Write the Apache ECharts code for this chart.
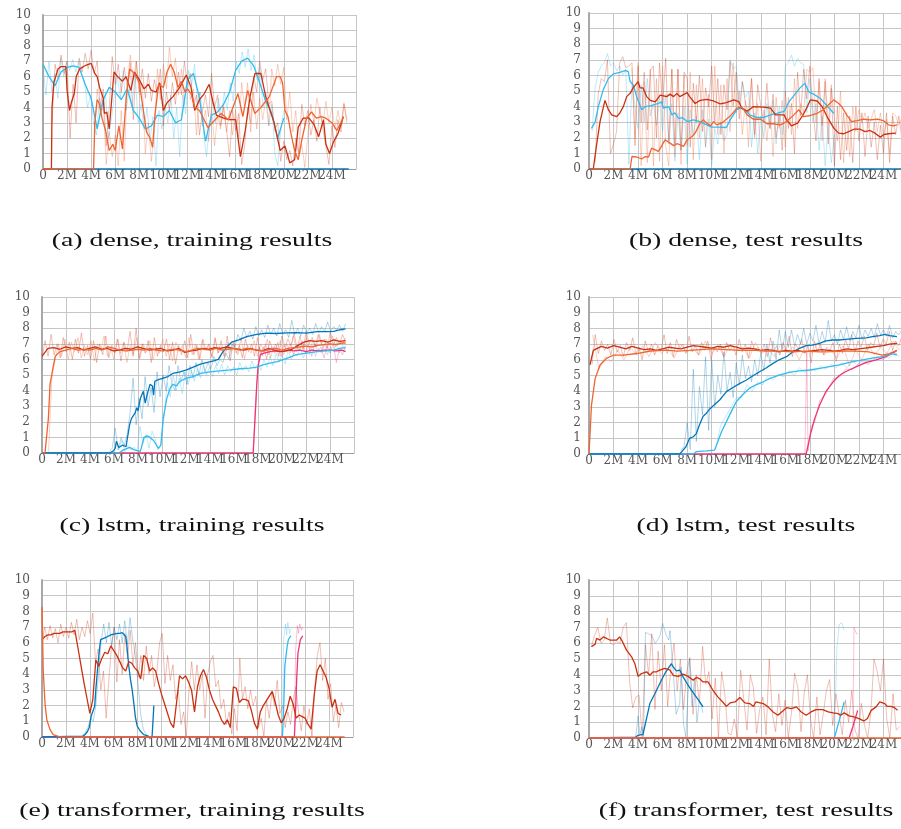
<!DOCTYPE html>
<html><head><meta charset="utf-8">
<script src="https://cdn.jsdelivr.net/npm/echarts@6/dist/echarts.min.js"></script>
<style>html,body{margin:0;padding:0;background:#fff}#c{width:901px;height:829px}</style>
</head><body><div id="c"></div>
<script>
// ---------- tick labels / captions ----------
const xTickStep = 2;           // million steps between ticks
const yTicks = [0,1,2,3,4,5,6,7,8,9,10];
const captions = ['(a) dense, training results','(b) dense, test results','(c) lstm, training results','(d) lstm, test results','(e) transformer, training results','(f) transformer, test results'];

// ---------- (a) dense, training ----------
const aCyanSpan = [0, 20];
const aCyan = [6.8,6.0,5.4,6.3,6.6,6.7,6.6,5.5,4.6,2.6,4.5,5.3,5.0,4.5,5.2,3.8,3.3,2.6,2.8,3.5,3.4,3.8,3.0,3.2,5.8,6.2,4.6,1.8,3.5,3.7,4.2,5.0,6.4,7.0,7.2,6.7,5.6,4.4,3.6,2.0,3.3];
const aRed = [[0,0],[0.7,0],[0.75,4.0],[0.9,5.6],[1.25,6.5],[1.5,6.65],[1.9,6.65],[2.0,5.1],[2.2,3.8],[2.35,4.3],[2.6,4.9],[2.76,6.0],[3.04,6.5],[3.6,6.75],[4.0,6.86],[4.3,6.2],[4.5,6.0],[4.7,5.3],[5.0,4.6],[5.1,3.6],[5.3,3.7],[5.5,2.6],[5.9,6.3],[6.2,6.0],[6.6,5.7],[6.9,6.0],[7.3,5.1],[7.6,6.3],[8.0,5.8],[8.4,5.2],[8.75,5.5],[9.0,5.1],[9.4,5.0],[9.7,5.6],[10.0,3.8],[10.3,4.3],[10.8,4.7],[11.4,5.35],[11.9,6.1],[12.3,5.3],[12.6,3.8],[13.0,4.5],[13.4,4.9],[13.8,5.5],[14.1,4.4],[14.4,3.5],[15.0,3.3],[15.4,3.2],[16.0,3.2],[16.4,0.8],[16.8,2.5],[17.2,4.7],[17.6,6.2],[18.1,6.2],[18.5,4.7],[19.2,3.0],[19.7,1.2],[20.1,1.5],[20.5,0.4],[20.9,0.6],[21.2,2.7],[21.6,3.3],[22.1,3.3],[22.5,2.9],[22.9,2.1],[23.3,3.2],[23.5,1.6],[23.8,1.0],[24.1,1.7],[24.5,2.3],[24.8,3.0],[24.95,3.4]];
const aOrange = [[0,0],[4.2,0],[4.3,3.0],[4.5,4.5],[4.7,4.2],[4.9,3.3],[5.2,2.5],[5.5,1.2],[5.8,1.6],[6.0,1.2],[6.3,2.8],[6.6,1.3],[6.9,4.5],[7.2,6.5],[7.6,6.2],[8.0,5.6],[8.3,4.0],[8.6,2.4],[8.9,2.0],[9.1,1.4],[9.3,3.5],[9.6,5.5],[10.0,5.3],[10.3,6.3],[10.6,6.8],[10.9,6.3],[11.2,5.3],[11.5,5.7],[11.8,5.0],[12.0,5.2],[12.3,4.9],[12.6,4.0],[13.0,3.8],[13.7,2.7],[14.3,3.2],[14.8,3.6],[15.4,3.2],[16.2,4.9],[16.6,3.4],[17.0,5.1],[17.6,3.6],[18.1,4.0],[18.8,4.7],[19.4,6.0],[19.7,6.0],[19.9,5.6],[20.1,3.8],[20.35,3.4],[20.6,2.3],[20.9,1.2],[21.2,0.6],[21.5,1.9],[21.9,3.3],[22.3,3.7],[22.7,3.3],[23.1,3.4],[23.5,3.3],[24.0,3.0],[24.4,2.5],[24.8,3.1],[24.95,3.4]];
const aBlueZero = [[0,0],[25.4,0]];
const aCyanRawSpan = [0, 20];
const aCyanRaw = [6.5,4.8,7.0,5.0,6.2,4.6,7.2,6.0,7.0,6.4,7.1,6.3,7.0,6.2,5.6,4.0,4.8,3.0,2.2,4.6,3.8,5.0,2.0,3.2,4.8,6.0,4.6,6.4,3.8,5.2,4.0,6.2,3.0,4.2,2.6,4.0,1.8,3.4,0.2,3.8,2.6,4.2,3.0,4.8,2.0,4.0,0.8,4.8,3.6,6.4,5.4,6.8,4.2,5.0,2.4,0.8,2.8,4.4,3.0,4.6,3.4,5.0,3.8,5.6,4.4,7.0,6.2,7.6,6.6,7.8,6.4,7.4,5.8,6.6,4.0,5.0,2.8,4.2,1.0,0.2,2.6,3.8];
const aRedRawSpan = [0.75, 25.25];
const aRedRaw = [3.0,6.8,5.9,7.4,6.2,7.0,2.0,5.5,3.0,7.2,6.3,7.5,6.5,7.7,6.2,7.0,4.0,5.2,1.5,4.0,7.3,5.5,6.8,5.0,6.6,5.2,6.9,3.2,7.0,5.0,6.5,4.6,6.2,4.4,5.8,4.8,6.5,2.8,5.0,3.8,5.6,4.2,6.3,4.8,7.0,5.5,6.2,4.0,4.8,2.2,3.8,4.8,3.4,6.2,4.0,4.8,2.8,4.0,2.5,0.8,3.8,2.5,3.6,0.3,1.5,4.0,3.0,6.0,5.0,7.0,5.8,6.5,4.2,4.4,2.5,3.0,0.5,1.8,0.6,1.2,0.2,2.0,1.0,4.2,2.8,3.8,2.2,3.2,1.8,4.0,2.6,1.5,0.3,2.8,1.4,3.2,2.4,4.2,3.0];
const aOrangeRawSpan = [4.25, 25.25];
const aOrangeRaw = [1.5,5.2,3.5,4.3,0.3,2.4,0.8,2.2,0.2,3.8,0.5,5.5,7.4,5.8,7.0,4.8,5.5,1.0,3.0,0.5,2.4,6.5,4.5,6.8,5.2,7.9,6.0,7.2,4.8,6.5,4.2,6.0,4.5,5.2,2.2,5.0,2.8,3.8,1.8,4.0,1.5,3.5,2.6,4.2,2.4,3.8,2.2,3.8,2.0,5.6,4.0,5.6,2.4,5.0,2.6,4.6,3.2,4.5,2.8,6.5,5.4,6.8,5.5,6.6,3.2,5.0,2.4,3.8,0.8,1.6,0.1,2.2,4.2,3.0,4.6,3.6,2.8,4.4,3.0,4.0,2.6,3.8,2.8,4.3,3.2];

// ---------- (b) dense, test ----------
const bCyan = [[0.2,2.6],[0.5,3.0],[0.76,4.0],[1.17,5.1],[1.58,5.8],[2.0,6.1],[2.5,6.2],[2.94,6.3],[3.2,6.25],[3.35,5.6],[3.6,5.4],[3.9,4.6],[4.3,3.8],[4.57,4.0],[5.0,4.04],[5.66,4.2],[5.9,4.3],[6.07,3.9],[6.5,4.0],[6.75,3.47],[7.0,3.6],[7.3,3.25],[7.6,3.3],[8.0,3.04],[8.5,3.15],[9.06,3.04],[9.6,2.83],[10.0,2.68],[10.55,2.68],[11.2,2.66],[11.5,3.15],[12.05,3.8],[12.3,3.9],[12.7,3.8],[13.1,3.47],[13.7,3.3],[14.2,3.3],[14.8,3.47],[15.3,3.57],[15.9,3.7],[16.3,4.3],[16.7,4.7],[17.2,5.2],[17.6,5.5],[17.9,4.96],[18.3,4.8],[18.9,4.5],[19.4,4.04],[19.95,3.57]];
const bRed = [[0,0],[0.35,0],[0.6,1.45],[0.9,3.04],[1.3,4.4],[1.58,3.8],[1.85,3.47],[2.26,3.36],[2.5,3.57],[2.8,4.0],[3.07,4.64],[3.35,4.85],[3.6,5.2],[4.0,5.6],[4.16,5.2],[4.4,5.2],[4.7,4.64],[5.0,4.4],[5.4,4.3],[5.8,4.74],[6.34,4.64],[6.6,4.8],[6.9,4.64],[7.16,4.85],[7.4,4.64],[8.0,4.9],[8.2,4.64],[8.65,4.2],[9.06,4.4],[9.6,4.47],[10.15,4.36],[10.7,4.17],[11.2,4.26],[11.8,4.43],[12.2,4.32],[12.46,3.9],[12.9,3.7],[13.4,4.0],[14.2,3.96],[14.8,3.9],[15.2,3.47],[15.9,3.47],[16.1,3.15],[16.5,2.77],[17.0,2.94],[17.4,3.4],[17.8,4.0],[18.04,4.43],[18.6,4.36],[19.0,4.0],[19.4,3.36],[19.95,2.62],[20.35,2.3],[20.76,2.26],[21.17,2.4],[21.6,2.55],[22.1,2.55],[22.5,2.4],[22.9,2.47],[23.3,2.3],[23.75,2.04],[24.0,2.2],[24.4,2.26],[25.0,2.3]];
const bOrange = [[0,0],[3.35,0],[3.5,0.8],[3.9,0.77],[4.3,0.64],[4.57,0.8],[4.85,0.77],[5.1,1.34],[5.4,1.23],[5.66,1.13],[5.9,1.45],[6.2,1.87],[6.6,1.66],[6.9,1.5],[7.16,1.62],[7.4,1.56],[7.7,1.45],[8.0,1.87],[8.4,2.08],[8.65,2.3],[9.06,2.94],[9.3,3.15],[9.6,2.94],[9.9,2.77],[10.15,3.04],[10.4,2.83],[10.8,2.94],[11.2,3.19],[11.6,3.47],[12.05,3.9],[12.46,3.96],[12.9,3.47],[13.4,3.19],[14.0,3.19],[14.5,2.9],[15.0,2.9],[15.6,2.83],[16.1,3.04],[16.7,3.47],[17.1,3.8],[17.5,3.36],[18.04,3.43],[18.6,3.57],[19.1,3.8],[19.5,4.1],[19.95,4.43],[20.35,4.2],[20.6,4.0],[21.0,3.47],[21.4,3.04],[21.85,3.1],[22.4,3.19],[22.9,3.15],[23.5,3.19],[24.0,3.1],[24.4,2.83],[24.8,2.77],[25.1,2.83]];
const bBlueZero = [[0,0],[25.5,0]];
const bCyanRawSpan = [0.25, 20.0];
const bCyanRaw = [2.4,5.2,6.2,6.6,6.8,7.4,6.6,6.8,6.3,6.6,6.0,6.4,0.3,5.6,4.0,2.6,5.4,3.0,5.8,3.4,4.2,2.8,4.6,2.4,4.8,1.6,4.2,0.5,3.6,1.2,4.0,0.3,3.8,2.2,3.4,0.6,3.8,1.4,3.2,0.2,2.6,1.6,3.0,1.8,2.2,7.0,6.4,6.6,4.2,5.6,4.6,5.0,1.4,3.6,1.0,3.4,2.0,4.2,2.6,4.4,1.6,4.0,2.2,6.6,6.8,7.3,6.6,7.1,6.8,6.7,3.6,5.8,3.0,4.2,1.2,3.4,0.2,2.8,0.4,2.2];
const bRedRawSpan = [0.5, 25.5];
const bRedRaw = [0.4,4.8,5.8,5.6,7.0,1.0,1.6,2.4,6.8,7.2,6.5,6.6,6.8,1.5,6.6,3.0,6.2,2.5,6.3,6.6,2.0,6.8,4.0,7.1,1.8,6.4,1.6,6.4,1.2,6.2,5.8,1.4,5.5,3.0,6.0,2.4,5.2,4.0,6.6,3.0,5.8,2.2,5.4,3.8,6.9,4.0,6.2,3.2,5.6,4.2,3.6,5.8,2.2,5.4,4.0,3.0,5.5,2.6,4.8,2.0,3.4,1.2,5.0,2.6,4.2,1.0,6.2,3.4,6.4,4.5,6.6,3.8,1.8,5.8,2.8,5.6,1.6,5.2,0.2,4.0,0.6,3.6,1.2,3.4,0.4,4.0,1.8,3.6,0.8,3.4,1.4,3.0,0.6,2.8,1.0,3.6,0.4,3.4,2.2,3.4,2.0];
const bOrangeRawSpan = [3.5, 25.5];
const bOrangeRaw = [6.5,2.0,6.8,0.2,5.6,0.4,6.4,0.2,5.8,0.5,6.6,1.5,0.2,6.4,0.8,6.4,0.3,6.0,1.5,6.2,0.6,5.4,2.0,5.8,1.4,4.8,0.6,6.6,2.2,5.4,1.0,5.8,2.4,6.8,3.6,5.0,2.2,4.4,1.4,5.8,2.0,4.2,0.5,3.8,1.8,4.0,0.8,4.6,2.6,4.4,1.4,4.6,2.2,5.8,2.6,4.2,3.6,6.4,6.2,6.5,3.0,5.6,1.8,5.8,2.8,5.4,3.2,1.8,5.0,0.4,3.6,0.8,4.0,2.4,3.8,3.0,3.6,2.6,3.2,3.8,2.4,3.6,2.0,3.2,1.0,3.6,3.4,2.8,3.3];

// ---------- (c) lstm, training ----------
const cRedSpan = [0, 25.3];
const cRed = [6.2,6.7,6.75,6.65,6.8,6.7,6.75,6.6,6.7,6.8,6.65,6.7,6.55,6.6,6.7,6.65,6.8,6.7,6.6,6.65,6.7,6.55,6.6,6.7,6.45,6.55,6.6,6.7,6.65,6.75,6.7,6.8,6.7,6.65,6.6,6.7,6.6,6.55,6.7,6.6,6.5,6.55,6.65,6.9,7.1,7.2,7.15,7.2,7.1,7.25,7.15,7.2];
const cOrange = [[0,0],[0.25,0],[0.4,0.1],[0.53,2.2],[0.67,4.4],[0.9,5.4],[1.1,6.2],[1.5,6.5],[2,6.6],[2.5,6.7],[3,6.6],[3.5,6.65],[4,6.6],[4.5,6.7],[5,6.6],[5.5,6.8],[6,6.7],[6.5,6.6],[7,6.55],[7.5,6.6],[8,6.65],[8.5,6.6],[9,6.7],[9.5,6.6],[10,6.55],[10.5,6.6],[11,6.65],[11.5,6.6],[12,6.5],[12.5,6.6],[13,6.7],[13.5,6.65],[14,6.6],[14.5,6.7],[15,6.6],[15.5,6.65],[16,6.7],[16.5,6.6],[17,6.7],[17.5,6.65],[18,6.6],[18.5,6.55],[19,6.65],[19.5,6.7],[20,6.6],[20.5,6.7],[21,6.75],[21.5,6.8],[22,6.85],[22.5,6.8],[23,6.9],[23.5,6.95],[24,7.0],[24.5,6.95],[25,7.05],[25.3,7.05]];
const cBlue = [[0,0],[5.6,0],[5.9,0.1],[6.1,0.3],[6.2,0.75],[6.4,0.35],[6.7,0.5],[7.0,0.4],[7.3,1.8],[7.45,2.2],[7.75,2.55],[7.9,2.9],[8.0,2.7],[8.2,3.5],[8.3,3.7],[8.45,3.95],[8.6,3.2],[8.75,3.7],[9.0,4.4],[9.2,4.3],[9.3,3.7],[9.4,4.6],[9.7,4.7],[10.1,4.8],[10.5,4.9],[10.9,5.1],[11.5,5.2],[12.05,5.33],[12.6,5.5],[13.2,5.7],[13.7,5.8],[14.3,5.9],[14.7,6.0],[15.0,6.4],[15.4,6.8],[15.8,7.1],[16.4,7.25],[17.05,7.46],[17.9,7.6],[18.7,7.68],[19.5,7.66],[20.4,7.7],[21.2,7.72],[22.05,7.68],[22.9,7.78],[23.7,7.78],[24.3,7.8],[24.8,7.9],[25.3,7.95]];
const cCyan = [[0,0],[6.4,0],[6.8,0.2],[7.1,0.3],[7.3,0.36],[7.7,0.2],[8.2,0.1],[8.5,1.0],[8.8,1.1],[9.0,1.0],[9.3,0.8],[9.7,0.3],[9.9,0.5],[10.1,2.2],[10.4,3.5],[10.7,4.2],[10.9,4.4],[11.2,4.3],[11.5,4.6],[12.05,4.8],[12.6,4.9],[13.2,5.1],[14.0,5.2],[14.8,5.27],[15.7,5.33],[16.5,5.4],[17.3,5.44],[17.9,5.5],[18.4,5.65],[19.0,5.76],[19.6,5.86],[20.4,6.07],[21.2,6.3],[22.05,6.4],[22.9,6.5],[23.7,6.55],[24.3,6.6],[24.8,6.7],[25.3,6.75]];
const cMagenta = [[0,0],[17.6,0],[17.75,2.2],[17.9,4.4],[18.0,5.5],[18.2,6.3],[18.5,6.4],[19.0,6.5],[19.5,6.55],[20,6.5],[20.5,6.6],[21,6.55],[21.5,6.6],[22,6.5],[22.5,6.6],[23,6.55],[23.5,6.6],[24,6.6],[24.5,6.55],[25,6.6],[25.3,6.5]];
const cRedRawSpan = [0, 25.3];
const cRedRaw = [6.0,7.2,6.2,7.6,6.3,7.0,6.1,7.4,6.5,7.1,6.0,7.3,6.4,7.7,6.2,6.9,6.0,7.2,5.8,7.0,6.3,7.5,6.1,6.9,6.4,7.3,5.9,7.1,6.5,7.8,6.2,8.0,6.0,7.0,6.4,7.2,5.8,7.4,6.2,6.9,6.5,7.3,6.0,7.1,5.7,6.9,6.3,7.2,6.1,7.6,6.3,6.9,6.0,7.3,6.6,7.0,6.1,7.4,6.4,7.2,6.2,7.5,5.9,7.1,6.4,6.9,6.1,7.3,6.5,7.0,6.2,7.4,6.3,6.8,6.0,7.2,6.6,7.0,6.2,7.5,6.8,7.3,6.9,7.7,6.7,7.5,6.6,7.8,7.0,7.4,6.8,7.6,7.0,7.3,6.7,7.8,6.9,7.4,7.0,7.6,7.1];
const cOrangeRawSpan = [0.55, 25.3];
const cOrangeRaw = [0.1,4.8,6.0,7.0,6.2,7.3,6.0,7.1,6.5,7.4,6.1,6.9,6.3,7.2,5.9,7.0,6.6,7.5,6.2,6.8,6.0,7.3,6.4,7.1,5.8,6.9,6.3,7.4,6.1,7.0,6.5,7.2,6.0,6.8,6.4,7.3,6.2,7.0,5.9,7.1,6.5,6.9,6.1,7.4,6.3,7.0,6.0,7.2,6.6,6.9,6.2,7.3,6.4,6.8,6.1,7.1,6.5,7.0,6.3,7.4,6.0,6.9,6.4,7.2,6.2,7.0,6.5,7.3,6.1,6.8,6.6,7.2,6.3,7.0,6.4,7.5,6.5,7.1,6.7,7.4,6.6,7.2,6.8,7.6,6.7,7.3,6.9,7.5,6.8,7.2,7.0,7.4];
const cBlueRawSpan = [5.6, 25.3];
const cBlueRaw = [0.1,0.3,1.6,0.2,1.0,0.5,1.2,2.6,4.8,1.8,3.5,2.2,4.9,3.0,4.2,2.6,5.2,3.6,5.0,4.0,5.6,4.4,4.0,5.6,4.6,5.2,4.4,5.6,4.8,5.8,5.0,6.0,5.2,5.8,5.4,6.2,5.6,6.0,5.8,6.4,6.0,7.0,6.8,7.6,7.2,8.0,7.4,7.8,7.3,8.1,7.5,7.9,7.4,8.2,7.6,8.0,7.5,8.3,7.6,7.9,7.4,8.5,7.6,8.0,7.5,8.2,7.7,8.0,7.6,8.3,7.7,8.1,7.8,8.4,7.8,8.1,7.9,8.2,7.8,8.3];
const cCyanRawSpan = [6.4, 25.3];
const cCyanRaw = [0.2,0.8,0.1,0.5,0.2,0.4,0.1,1.7,0.6,1.2,0.3,1.4,0.9,0.2,0.5,2.4,4.5,3.6,5.0,4.0,4.8,3.8,5.2,4.4,5.3,4.6,5.4,4.8,5.6,5.0,5.5,4.9,5.6,5.1,5.7,5.0,5.6,5.2,5.5,5.0,5.8,5.3,5.6,5.2,5.9,5.4,5.7,5.3,6.0,5.5,6.2,5.6,6.4,5.8,6.3,5.7,6.6,6.0,6.4,6.2,6.8,6.1,6.5,6.3,6.9,6.2,6.7,6.4,7.0,6.3,6.8,6.5,7.1,6.4,6.9,6.6];
const cMagentaRawSpan = [17.6, 25.3];
const cMagentaRaw = [0.1,4.0,6.8,6.2,7.0,6.3,6.8,6.4,7.1,6.2,6.9,6.5,7.0,6.3,6.8,6.6,7.2,6.4,6.9,6.2,7.0,6.5,6.8,6.1,6.9,6.4,7.0,5.8,6.7,6.3,6.9];

// ---------- (d) lstm, test ----------
const dRed = [[0.08,5.67],[0.35,6.6],[0.5,6.7],[1.0,6.85],[1.5,6.75],[2.0,6.9],[2.5,6.8],[3.0,6.7],[3.5,6.85],[4.0,6.75],[4.5,6.65],[5.0,6.7],[5.5,6.6],[6.0,6.7],[6.5,6.8],[7.0,6.75],[7.5,6.7],[8.0,6.8],[8.5,6.9],[9.0,6.85],[9.5,6.8],[10.0,6.75],[10.5,6.85],[11.0,6.8],[11.5,6.9],[12.0,6.8],[12.5,6.7],[13.0,6.75],[13.5,6.7],[14.0,6.6],[14.5,6.65],[15.0,6.6],[15.5,6.5],[16.0,6.6],[16.5,6.55],[17.0,6.6],[17.5,6.5],[18.0,6.55],[18.5,6.6],[19.0,6.65],[19.5,6.6],[20.0,6.55],[20.5,6.6],[21.0,6.7],[21.5,6.65],[22.0,6.7],[22.5,6.75],[23.0,6.8],[23.5,6.85],[24.0,6.9],[24.5,7.0],[25.1,7.05]];
const dOrange = [[0,0],[0.08,0],[0.2,3.1],[0.5,4.8],[0.9,5.67],[1.44,6.1],[2.0,6.3],[2.8,6.3],[3.9,6.4],[5.0,6.56],[6.3,6.62],[7.2,6.55],[8.2,6.6],[9.1,6.65],[10.1,6.7],[11.2,6.65],[12.3,6.6],[13.3,6.62],[14.4,6.56],[15.5,6.55],[16.6,6.5],[17.7,6.55],[18.8,6.5],[19.8,6.52],[20.9,6.56],[21.8,6.55],[22.8,6.5],[23.4,6.4],[23.9,6.3],[24.5,6.4],[25.1,6.6]];
const dBlue = [[0,0],[7.4,0],[7.67,0.25],[7.9,0.46],[8.2,1.0],[8.5,1.1],[8.75,1.3],[9.0,1.85],[9.3,2.4],[9.57,2.6],[9.84,2.87],[10.24,3.16],[10.65,3.44],[11.2,3.97],[11.7,4.22],[12.3,4.5],[12.8,4.7],[13.4,5.0],[13.9,5.24],[14.4,5.46],[15.0,5.77],[15.5,6.0],[16.1,6.2],[16.6,6.5],[17.15,6.73],[17.7,6.9],[18.2,6.94],[18.8,7.05],[19.3,7.2],[19.9,7.26],[20.4,7.26],[20.9,7.3],[21.8,7.37],[22.6,7.4],[23.1,7.47],[23.7,7.54],[24.1,7.62],[24.5,7.54],[25.1,7.47]];
const dCyan = [[0,0],[8.5,0],[8.75,0.15],[9.57,0.2],[10.24,0.25],[10.4,0.57],[10.8,1.42],[11.2,2.06],[11.6,2.7],[12.0,3.33],[12.5,3.76],[13.1,4.2],[13.6,4.4],[14.2,4.6],[14.7,4.8],[15.5,5.03],[16.3,5.2],[17.15,5.29],[18.0,5.35],[18.8,5.46],[19.6,5.56],[20.4,5.67],[20.9,5.77],[21.5,5.88],[22.3,6.0],[23.1,6.1],[23.9,6.2],[24.7,6.4],[25.1,6.3]];
const dMagenta = [[0,0],[17.7,0],[17.8,0.36],[18.1,1.42],[18.4,2.27],[18.8,3.12],[19.3,3.97],[19.9,4.6],[20.4,5.0],[20.9,5.24],[21.8,5.56],[22.6,5.84],[23.4,6.0],[24.2,6.2],[24.7,6.4],[25.1,6.6]];
const dRedRawSpan = [0.25, 25.5];
const dRedRaw = [5.7,7.6,6.4,7.2,6.6,7.0,6.3,7.3,6.5,6.9,6.2,7.1,6.6,7.4,6.4,6.8,6.0,7.2,6.5,7.0,6.3,6.9,6.6,7.6,6.4,7.1,6.2,7.3,6.7,7.0,6.4,7.5,6.5,6.9,6.3,7.1,6.6,7.2,6.0,6.8,6.5,7.0,6.2,7.1,6.6,6.9,6.3,7.3,6.5,7.0,6.1,7.2,6.6,6.8,6.4,7.0,6.2,7.4,6.5,6.9,6.3,7.1,6.6,7.5,6.2,7.0,6.7,7.3,6.4,6.9,5.8,7.2,6.5,7.0,6.3,6.8,6.6,7.1,5.9,7.0,6.4,7.3,6.7,7.6,6.5,7.2,6.8,7.5,6.6,7.1,6.9,7.7,6.8,7.3,7.0,7.8,6.6,7.2,6.9,7.5];
const dOrangeRawSpan = [0.3, 25.3];
const dOrangeRaw = [7.6,5.4,6.2,5.9,6.6,6.0,6.8,6.3,6.9,6.2,7.1,6.4,6.8,6.1,7.0,6.5,6.7,6.3,7.2,6.4,6.9,6.2,7.0,6.6,6.8,6.1,7.1,6.4,6.7,6.2,7.0,6.5,6.8,6.0,6.9,6.4,7.1,6.3,6.7,6.1,6.9,5.6,6.6,6.0,7.0,6.3,6.8,6.4,7.2,6.6];
const dBlueRawSpan = [7.5, 25.5];
const dBlueRaw = [0.2,0.5,2.0,0.3,5.4,0.8,4.3,2.5,6.2,1.5,6.0,3.0,5.0,3.8,6.5,4.0,5.2,3.6,5.8,4.4,6.3,4.8,5.6,4.6,6.0,5.0,6.4,5.3,7.0,5.8,7.2,6.0,7.9,6.6,7.8,6.8,7.9,6.9,7.6,7.0,8.0,7.0,7.7,7.2,8.2,7.0,7.8,7.1,8.5,7.2,7.6,7.0,7.9,7.3,8.1,7.2,7.8,7.4,8.2,7.3,7.9,7.5,8.0,7.4,8.3,7.6,7.9,7.5,8.2,7.4,7.8,7.6,7.9];
const dCyanRawSpan = [10.3, 25.3];
const dCyanRaw = [0.3,1.8,2.4,3.0,3.6,3.6,4.4,4.0,4.6,4.4,5.0,4.7,5.1,4.9,5.3,5.0,5.5,5.2,5.4,5.3,5.6,5.4,5.7,5.5,5.8,5.5,5.9,5.7,6.0,5.8,6.2,6.0,6.3,6.1,6.5,6.2];
const dMagentaRaw = [[17.6,0],[17.75,6.5],[17.85,0.2],[18.1,1.8],[18.4,2.0],[18.8,3.4],[19.3,3.8],[19.9,4.8],[20.4,4.9],[20.9,5.4],[21.5,5.4],[22.2,5.9],[22.8,5.7],[23.4,6.2],[24.0,6.0],[24.6,6.5],[25.1,6.4]];

// ---------- (e) transformer, training ----------
const eRedSpan = [0, 25];
const eRed = [6.2,6.4,6.5,6.5,6.6,6.6,6.6,6.7,6.7,6.7,6.7,6.8,5.7,4.6,3.5,2.5,1.5,2.4,4.9,4.5,5.0,5.4,5.3,5.8,5.5,5.2,4.8,4.4,4.2,4.8,4.7,4.4,4.2,3.7,5.2,5.0,4.2,4.4,4.2,3.4,2.7,2.1,1.5,0.9,0.6,2.2,3.9,3.7,3.9,3.5,3.0,1.6,3.2,3.9,4.3,3.8,3.0,2.4,2.0,1.6,1.1,0.8,1.1,0.6,3.2,3.1,2.2,2.4,2.4,2.3,1.7,0.9,0.5,1.6,2.0,2.3,2.6,2.9,2.2,1.4,0.9,1.2,1.8,2.6,2.1,1.2,1.4,1.3,1.2,0.8,0.5,2.6,4.2,4.6,4.2,3.8,3.1,1.9,2.4,1.5,1.4];
const eOrange = [[0,8.3],[0.05,6.4],[0.1,4.3],[0.25,2.16],[0.4,1.1],[0.67,0.47],[0.94,0.15],[1.36,0.04],[1.6,0],[25.3,0]];
const eBlue = [[0,0],[3.4,0.05],[3.6,0.15],[3.8,0.35],[3.95,0.6],[4.1,1.3],[4.25,1.4],[4.4,1.95],[4.5,3.0],[4.64,4.3],[4.8,5.55],[4.9,6.2],[5.2,6.3],[5.5,6.4],[5.75,6.5],[6.0,6.55],[6.3,6.6],[6.5,6.6],[6.7,6.65],[6.85,6.75],[7.0,6.4],[7.1,5.8],[7.26,4.5],[7.4,3.65],[7.54,3.0],[7.7,2.0],[7.8,1.3],[7.96,0.7],[8.2,0.4],[8.5,0.15],[8.9,0.05],[9.0,0]];
const eBlue2 = [[9.2,0],[9.3,1.3],[9.35,2.0]];
const eCyan = [[0,0],[20.1,0],[20.2,1.73],[20.3,4.5],[20.5,5.8],[20.6,6.2],[20.8,6.45]];
const eMagenta = [[0,0],[21.1,0],[21.2,1.7],[21.3,3.85],[21.4,5.35],[21.6,6.2],[21.8,6.45]];
const eRedRawSpan = [0, 25.25];
const eRedRaw = [6.0,7.0,6.2,7.1,6.3,6.9,6.0,7.2,6.4,7.0,6.3,7.3,6.5,7.5,6.2,7.0,6.4,7.4,6.6,7.9,4.8,5.6,3.0,4.2,1.2,3.6,5.8,7.0,3.5,6.2,4.0,6.6,5.0,6.8,4.6,6.0,3.8,5.2,3.6,5.8,4.0,5.2,3.2,4.2,6.0,6.6,3.4,5.2,3.6,4.6,2.4,3.0,0.8,1.6,0.0,3.0,4.8,3.0,4.6,3.0,4.0,1.2,4.0,4.8,5.2,3.2,3.6,1.8,2.4,0.8,1.6,0.2,1.8,0.4,5.0,2.4,3.2,1.8,3.0,2.0,2.6,0.6,1.2,0.0,2.4,1.2,2.8,2.0,3.6,1.5,2.0,0.6,1.6,0.8,2.4,3.2,1.6,0.4,2.0,0.8,1.8,0.0,3.0,5.2,6.0,3.6,5.0,2.4,3.4,1.0,2.0,0.6,2.2,1.6];
const eBlueRawSpan = [3.4, 8.9];
const eBlueRaw = [0.1,0.3,0.6,1.2,1.0,2.0,4.0,6.0,7.2,6.0,7.3,5.8,7.0,6.2,7.2,6.0,7.4,5.9,7.6,6.2,5.2,3.5,1.5,0.5,0.2,0.0];
const eCyanRaw = [[20.1,0],[20.2,6.2],[20.35,7.2],[20.45,6.5],[20.55,7.3],[20.7,6.6],[20.8,6.9]];
const eMagentaRaw = [[21.1,0],[21.2,5.5],[21.35,7.1],[21.45,6.6],[21.55,7.2],[21.7,6.8],[21.8,7.0]];

// ---------- (f) transformer, test ----------
const fRed = [[0.2,5.77],[0.5,5.94],[0.62,6.3],[0.9,6.2],[1.05,6.15],[1.17,6.4],[1.44,6.3],[1.7,6.2],[2.0,6.2],[2.26,6.2],[2.5,6.4],[2.66,6.2],[3.06,5.56],[3.47,5.14],[3.74,4.7],[4.0,3.9],[4.28,4.08],[4.7,4.19],[4.96,3.97],[5.23,4.19],[5.5,4.19],[5.77,4.3],[6.18,4.4],[6.6,4.3],[6.86,3.97],[7.26,3.9],[7.67,4.04],[8.07,3.9],[8.5,3.66],[8.75,3.83],[9.0,3.76],[9.3,3.55],[9.7,3.55],[10.1,3.02],[10.5,2.6],[10.9,2.28],[11.2,2.0],[11.5,2.22],[11.9,2.28],[12.3,2.56],[12.7,2.22],[13.1,2.18],[13.4,2.0],[13.6,2.28],[14.2,2.18],[14.6,1.97],[15.0,1.65],[15.4,1.44],[15.7,1.65],[16.1,1.92],[16.5,1.86],[16.9,1.97],[17.3,1.65],[17.7,1.44],[18.1,1.65],[18.5,1.8],[19.05,1.8],[19.5,1.65],[19.9,1.59],[20.3,1.54],[20.5,1.44],[20.8,1.59],[21.2,1.4],[21.6,1.33],[22.0,1.23],[22.4,1.08],[22.7,1.23],[23.0,1.75],[23.4,1.97],[23.7,2.28],[24.1,2.18],[24.3,2.0],[24.6,2.0],[24.9,1.92],[25.15,1.75]];
const fBlue = [[0,0],[3.8,0.06],[4.0,0.17],[4.4,0.23],[4.55,0.27],[4.96,2.18],[5.37,2.8],[5.77,3.45],[6.18,4.08],[6.45,4.4],[6.72,4.7],[6.86,4.5],[7.13,4.25],[7.4,4.3],[7.67,3.87],[8.07,3.34],[8.5,2.85],[8.9,2.43],[9.3,1.97]];
const fCyan = [[0,0],[20.0,0],[20.4,1.12],[20.8,2.28]];
const fMagenta = [[0,0],[21.2,0],[21.5,0.7],[21.9,1.75]];
const fOrangeZero = [[0,0],[25.5,0]];
const fRedRawSpan = [0.2, 25.3];
const fRedRaw = [5.8,6.5,7.0,6.0,6.2,7.6,6.0,5.9,6.1,6.0,7.0,7.3,3.6,1.9,2.6,2.7,0.0,5.9,4.0,6.6,1.8,5.5,3.0,5.9,2.0,4.4,6.0,3.0,5.0,1.8,4.2,5.1,1.5,4.0,2.2,5.8,3.4,4.2,1.2,3.8,0.0,4.2,2.8,0.3,0.2,1.2,0.0,4.3,2.4,0.5,4.0,3.2,0.3,1.8,2.6,0.2,5.0,1.5,0.4,2.8,0.8,2.4,0.0,1.6,4.1,3.2,0.4,2.8,4.0,1.2,0.0,2.6,0.2,1.5,3.0,3.7,0.8,2.8,1.5,0.2,2.4,1.0,3.0,0.5,0.0,2.2,0.8,0.0,1.6,5.0,4.2,3.0,5.0,1.2,0.0,2.8,0.5,0.7];
const fBlueRaw = [[3.8,0],[4.0,1.4],[4.15,0.2],[4.3,0.7],[4.45,0.1],[4.6,6.7],[4.8,6.6],[5.1,6.5],[5.4,6.0],[5.6,6.2],[5.8,6.5],[6.0,7.25],[6.3,6.5],[6.5,6.2],[6.6,6.8],[6.86,4.3],[7.1,1.5],[7.4,2.2],[7.5,4.5],[7.7,0.9],[7.9,0.06],[8.2,5.0],[8.4,2.0],[8.6,3.8],[8.8,1.0],[9.0,2.4],[9.3,1.6]];
const fCyanRaw = [[20.0,0],[20.2,5.6],[20.4,7.2],[20.6,7.3],[20.8,6.8]];
const fMagentaRaw = [[21.5,0],[21.6,7.0],[21.8,6.6],[21.9,6.6]];

// ---------- build ----------
function spread(span, ys){ const n = ys.length; return ys.map((y,i)=>[span[0]+(span[1]-span[0])*i/(n-1), y]); }
const C = {red:'#C93010', orange:'#F06432', cyan:'#33BBEE', blue:'#0077BB', magenta:'#EE3377'};

const panelSeries = [
  [ ['f',C.cyan,spread(aCyanRawSpan,aCyanRaw)], ['f',C.red,spread(aRedRawSpan,aRedRaw)], ['f',C.orange,spread(aOrangeRawSpan,aOrangeRaw)],
    ['s',C.blue,aBlueZero], ['s',C.cyan,spread(aCyanSpan,aCyan)], ['s',C.red,aRed], ['s',C.orange,aOrange] ],
  [ ['f',C.cyan,spread(bCyanRawSpan,bCyanRaw)], ['f',C.red,spread(bRedRawSpan,bRedRaw)], ['f',C.orange,spread(bOrangeRawSpan,bOrangeRaw)],
    ['s',C.blue,bBlueZero], ['s',C.cyan,bCyan], ['s',C.red,bRed], ['s',C.orange,bOrange] ],
  [ ['f',C.red,spread(cRedRawSpan,cRedRaw)], ['f',C.orange,spread(cOrangeRawSpan,cOrangeRaw)], ['f',C.blue,spread(cBlueRawSpan,cBlueRaw)], ['f',C.cyan,spread(cCyanRawSpan,cCyanRaw)], ['f',C.magenta,spread(cMagentaRawSpan,cMagentaRaw)],
    ['s',C.magenta,cMagenta], ['s',C.cyan,cCyan], ['s',C.blue,cBlue], ['s',C.red,spread(cRedSpan,cRed)], ['s',C.orange,cOrange] ],
  [ ['f',C.red,spread(dRedRawSpan,dRedRaw)], ['f',C.orange,spread(dOrangeRawSpan,dOrangeRaw)], ['f',C.blue,spread(dBlueRawSpan,dBlueRaw)], ['f',C.cyan,spread(dCyanRawSpan,dCyanRaw)], ['f',C.magenta,dMagentaRaw],
    ['s',C.magenta,dMagenta], ['s',C.cyan,dCyan], ['s',C.blue,dBlue], ['s',C.red,dRed], ['s',C.orange,dOrange] ],
  [ ['f',C.red,spread(eRedRawSpan,eRedRaw)], ['f',C.blue,spread(eBlueRawSpan,eBlueRaw)], ['f',C.cyan,eCyanRaw], ['f',C.magenta,eMagentaRaw],
    ['s',C.cyan,eCyan], ['s',C.magenta,eMagenta], ['s',C.blue,eBlue], ['s',C.blue,eBlue2], ['s',C.red,spread(eRedSpan,eRed)], ['s',C.orange,eOrange] ],
  [ ['f',C.red,spread(fRedRawSpan,fRedRaw)], ['f',C.blue,fBlueRaw], ['f',C.cyan,fCyanRaw], ['f',C.magenta,fMagentaRaw],
    ['s',C.blue,fBlue], ['s',C.cyan,fCyan], ['s',C.magenta,fMagenta], ['s',C.red,fRed], ['s',C.orange,fOrangeZero] ]
];

const layout = [
  {left:43, top:15, width:313, height:154, ym:12, xl:24, cx:192, cy:241},
  {left:589, top:13, width:319, height:156, ym:8, xl:24, cx:746, cy:241},
  {left:42, top:297, width:312, height:156, ym:12, xl:26, cx:192, cy:526},
  {left:589, top:297, width:319, height:157, ym:8, xl:24, cx:746, cy:526},
  {left:42, top:580, width:311, height:157, ym:12, xl:26, cx:192, cy:811},
  {left:589, top:580, width:319, height:158, ym:8, xl:24, cx:746, cy:811}
];

const FONT = 'DejaVu Serif';
const grids = [], xAxes = [], yAxes = [], series = [], graphics = [];
layout.forEach((L, i) => {
  grids.push({left:L.left, top:L.top, width:L.width, height:L.height, containLabel:false, outerBoundsMode:'none'});
  xAxes.push({type:'value', gridIndex:i, min:0, max:26, interval:xTickStep,
    axisLine:{show:true, onZero:false, lineStyle:{color:'#9a9a9a', width:1}},
    axisTick:{show:false},
    axisLabel:{show:true, margin:1, color:'#555', fontFamily:FONT, fontSize:12, hideOverlap:false,
      formatter: v => v === 0 ? '0' : (v > L.xl ? '' : v + 'M')},
    splitLine:{show:true, lineStyle:{color:'#c6c6c6', width:1}}});
  yAxes.push({type:'value', gridIndex:i, min:yTicks[0], max:yTicks[yTicks.length-1], interval:1,
    axisLine:{show:true, lineStyle:{color:'#a8a8a8', width:2}},
    axisTick:{show:false},
    axisLabel:{show:true, margin:L.ym, color:'#555', fontFamily:FONT, fontSize:12},
    splitLine:{show:true, lineStyle:{color:'#c6c6c6', width:1.2}}});
  panelSeries[i].forEach(([kind, color, data]) => {
    series.push({type:'line', xAxisIndex:i, yAxisIndex:i, data:data, symbol:'none', showSymbol:false, silent:true,
      z: kind === 'f' ? 2 : 3,
      lineStyle:{color:color, width: kind === 'f' ? 1 : 1.3, opacity: kind === 'f' ? 0.3 : 1}});
  });
  graphics.push({type:'text', x:L.cx, y:L.cy, scaleX:1.46, scaleY:1,
    style:{text:captions[i], x:0, y:0, textAlign:'center', textVerticalAlign:'middle', fontFamily:'Liberation Serif', fontSize:19, fill:'#111'}});
});

const chart = echarts.init(document.getElementById('c'), null, {renderer:'canvas'});
chart.setOption({animation:false, backgroundColor:'#fff', grid:grids, xAxis:xAxes, yAxis:yAxes, series:series, graphic:graphics});
</script></body></html>
